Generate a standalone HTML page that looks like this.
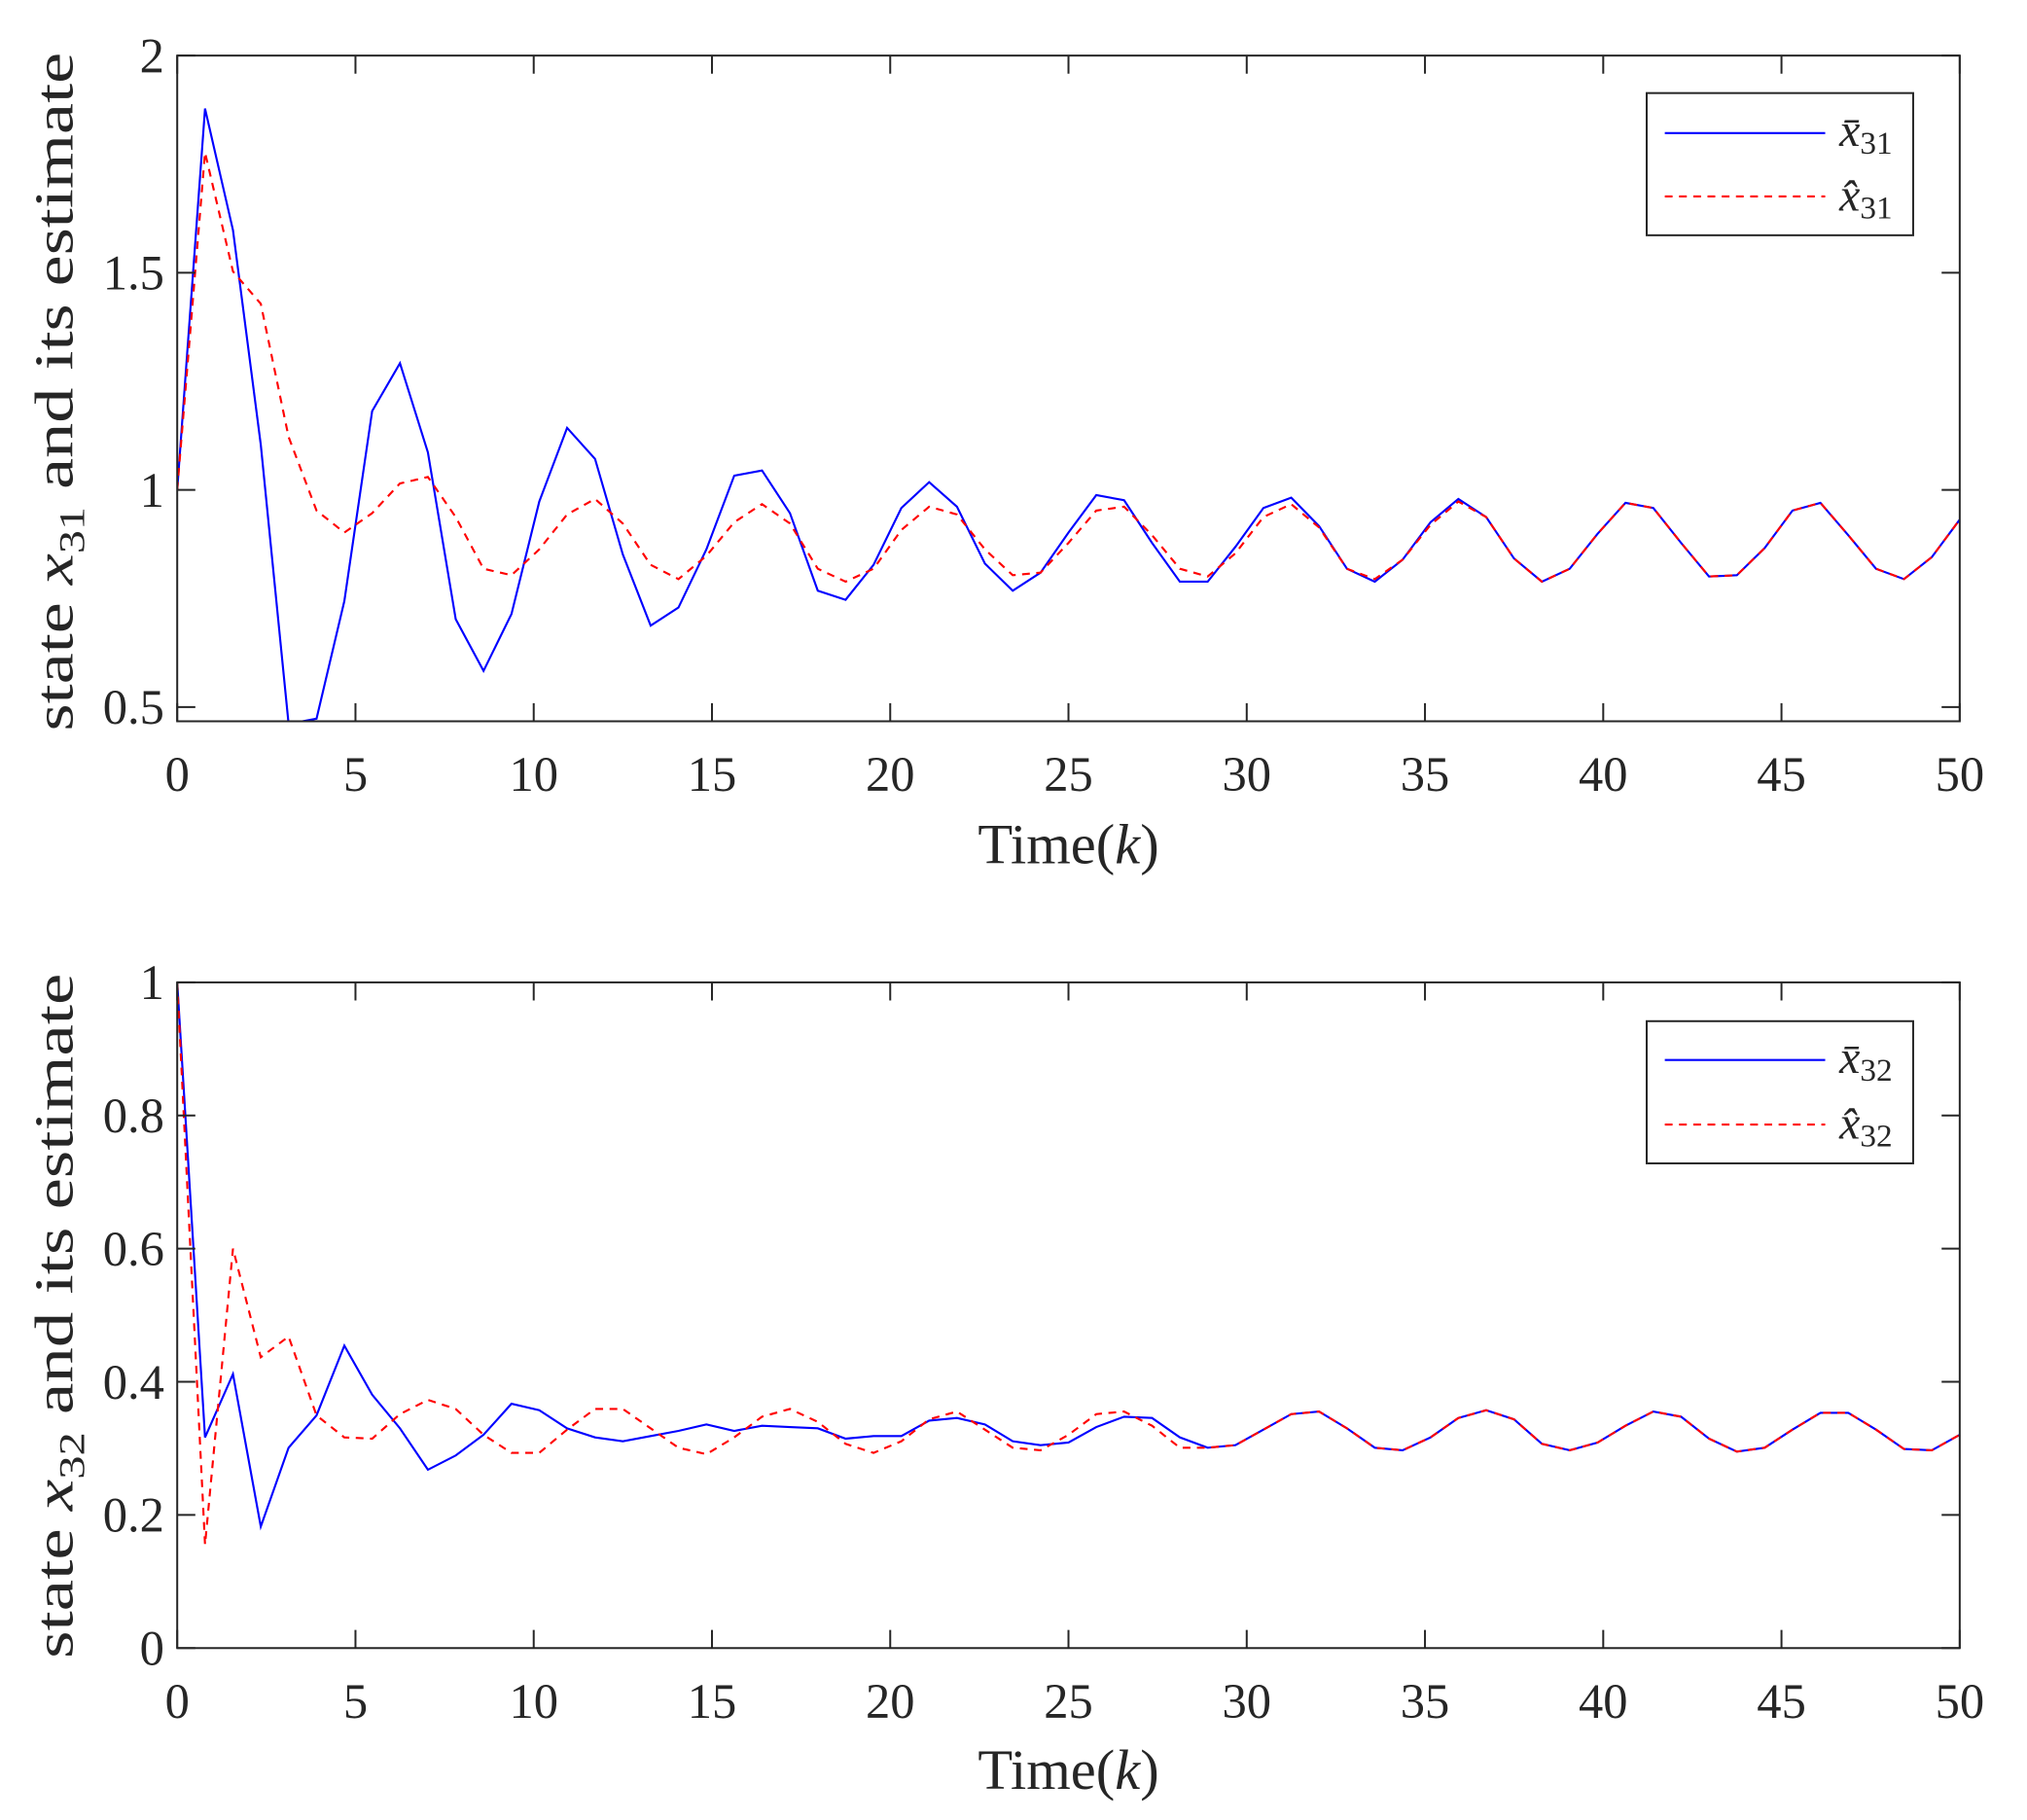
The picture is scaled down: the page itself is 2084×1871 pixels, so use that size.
<!DOCTYPE html>
<html><head><meta charset="utf-8"><style>
html,body{margin:0;padding:0;background:#fff;}
svg{display:block;}
text{font-family:"Liberation Serif",serif;fill:#262626;}
</style></head><body>
<svg width="2084" height="1871" viewBox="0 0 1567 1408" preserveAspectRatio="none" xmlns="http://www.w3.org/2000/svg">
<defs>
<clipPath id="c1"><rect x="137" y="43" width="1378" height="515"/></clipPath>
<clipPath id="c2"><rect x="137" y="760" width="1378" height="515"/></clipPath>
</defs>
<!-- TOP -->
<g clip-path="url(#c1)" fill="none" stroke-width="1.6">
<polyline stroke="#0000ff" points="137,379 158.5,84 180.1,178 201.6,344 223.1,560 244.7,556 266.2,465 287.7,318 309.2,281 330.8,350 352.3,479 373.8,519 395.4,475 416.9,388 438.4,331 460,355 481.5,429 503,484 524.5,470 546.1,425 567.6,368 589.1,364 610.7,397 632.2,457 653.7,464 675.3,437 696.8,393 718.3,373 739.8,392 761.4,436 782.9,457 804.4,443 826,412 847.5,383 869,387 890.6,420 912.1,450 933.6,450 955.1,423 976.7,393 998.2,385 1019.7,407 1041.3,440 1062.8,450 1084.3,433 1105.9,404 1127.4,386 1148.9,400 1170.4,432 1192,450 1213.5,440 1235,413 1256.6,389 1278.1,393 1299.6,420 1321.2,446 1342.7,445 1364.2,424 1385.7,395 1407.3,389 1428.8,414 1450.3,440 1471.9,448 1493.4,431 1515,402"/>
<polyline stroke="#ff0000" stroke-dasharray="6,5" points="137,379 158.5,118 180.1,210 201.6,235 223.1,338 244.7,395 266.2,412 287.7,397 309.2,374 330.8,369 352.3,400 373.8,440 395.4,445 416.9,425 438.4,398 460,386 481.5,405 503,437 524.5,448 546.1,430 567.6,404 589.1,390 610.7,405 632.2,440 653.7,450 675.3,440 696.8,410 718.3,392 739.8,398 761.4,425 782.9,445 804.4,443 826,420 847.5,395 869,392 890.6,414 912.1,440 933.6,446 955.1,428 976.7,400 998.2,390 1019.7,408 1041.3,440 1062.8,448 1084.3,433 1105.9,406 1127.4,388 1148.9,400 1170.4,432 1192,450 1213.5,440 1235,413 1256.6,389 1278.1,393 1299.6,420 1321.2,446 1342.7,445 1364.2,424 1385.7,395 1407.3,389 1428.8,414 1450.3,440 1471.9,448 1493.4,431 1515,402"/>
</g>
<rect x="137" y="43" width="1378" height="515" fill="none" stroke="#262626" stroke-width="1.5"/>
<g stroke="#262626" stroke-width="1.5">
<path d="M137,558v-14M274.8,558v-14M412.6,558v-14M550.4,558v-14M688.2,558v-14M826,558v-14M963.8,558v-14M1101.6,558v-14M1239.4,558v-14M1377.2,558v-14M1515,558v-14"/>
<path d="M137,43v14M274.8,43v14M412.6,43v14M550.4,43v14M688.2,43v14M826,43v14M963.8,43v14M1101.6,43v14M1239.4,43v14M1377.2,43v14M1515,43v14"/>
<path d="M137,43h14M137,211h14M137,379h14M137,547h14M1515,43h-14M1515,211h-14M1515,379h-14M1515,547h-14"/>
</g>
<g font-size="38" text-anchor="end">
<text x="127" y="56">2</text><text x="127" y="224">1.5</text><text x="127" y="392">1</text><text x="127" y="560">0.5</text>
</g>
<g font-size="38" text-anchor="middle">
<text x="137" y="612">0</text><text x="274.8" y="612">5</text><text x="412.6" y="612">10</text><text x="550.4" y="612">15</text><text x="688.2" y="612">20</text><text x="826" y="612">25</text><text x="963.8" y="612">30</text><text x="1101.6" y="612">35</text><text x="1239.4" y="612">40</text><text x="1377.2" y="612">45</text><text x="1515" y="612">50</text>
<text x="826" y="668" font-size="44">Time(<tspan font-style="italic">k</tspan>)</text>
</g>
<text transform="translate(56,303) rotate(-90)" font-size="42" text-anchor="middle" textLength="525" lengthAdjust="spacingAndGlyphs">state <tspan font-style="italic">x</tspan><tspan font-size="28" dy="9">31</tspan><tspan dy="-9"> and its estimate</tspan></text>
<rect x="1273" y="72" width="206" height="110" fill="#fff" stroke="#262626" stroke-width="1.5"/>
<line x1="1287" y1="103" x2="1411" y2="103" stroke="#0000ff" stroke-width="1.6"/>
<line x1="1287" y1="152" x2="1411" y2="152" stroke="#ff0000" stroke-width="1.6" stroke-dasharray="6,5"/>
<text x="1422" y="113" font-size="36" font-style="italic">x̄<tspan font-size="25" font-style="normal" dy="6">31</tspan></text>
<text x="1422" y="163" font-size="36" font-style="italic">x̂<tspan font-size="25" font-style="normal" dy="6">31</tspan></text>

<!-- BOTTOM -->
<g clip-path="url(#c2)" fill="none" stroke-width="1.6">
<polyline stroke="#0000ff" points="137,760 158.5,1112 180.1,1063 201.6,1181 223.1,1120 244.7,1095 266.2,1041 287.7,1079 309.2,1105 330.8,1137 352.3,1126 373.8,1110 395.4,1086 416.9,1091 438.4,1105 460,1112 481.5,1115 503,1111 524.5,1107 546.1,1102 567.6,1107 589.1,1103 610.7,1104 632.2,1105 653.7,1113 675.3,1111 696.8,1111 718.3,1099 739.8,1097 761.4,1102 782.9,1115 804.4,1118 826,1116 847.5,1104 869,1096 890.6,1097 912.1,1112 933.6,1120 955.1,1118 976.7,1106 998.2,1094 1019.7,1092 1041.3,1105 1062.8,1120 1084.3,1122 1105.9,1112 1127.4,1097 1148.9,1091 1170.4,1098 1192,1117 1213.5,1122 1235,1116 1256.6,1103 1278.1,1092 1299.6,1096 1321.2,1113 1342.7,1123 1364.2,1120 1385.7,1106 1407.3,1093 1428.8,1093 1450.3,1106 1471.9,1121 1493.4,1122 1515,1110"/>
<polyline stroke="#ff0000" stroke-dasharray="6,5" points="137,760 158.5,1195 180.1,966 201.6,1050 223.1,1034 244.7,1095 266.2,1112 287.7,1113 309.2,1094 330.8,1083 352.3,1090 373.8,1110 395.4,1124 416.9,1124 438.4,1106 460,1090 481.5,1090 503,1105 524.5,1120 546.1,1125 567.6,1112 589.1,1096 610.7,1090 632.2,1100 653.7,1117 675.3,1124 696.8,1115 718.3,1098 739.8,1092 761.4,1106 782.9,1120 804.4,1122 826,1110 847.5,1094 869,1092 890.6,1103 912.1,1120 933.6,1120 955.1,1118 976.7,1106 998.2,1094 1019.7,1092 1041.3,1105 1062.8,1120 1084.3,1122 1105.9,1112 1127.4,1097 1148.9,1091 1170.4,1098 1192,1117 1213.5,1122 1235,1116 1256.6,1103 1278.1,1092 1299.6,1096 1321.2,1113 1342.7,1123 1364.2,1120 1385.7,1106 1407.3,1093 1428.8,1093 1450.3,1106 1471.9,1121 1493.4,1122 1515,1110"/>
</g>
<rect x="137" y="760" width="1378" height="515" fill="none" stroke="#262626" stroke-width="1.5"/>
<g stroke="#262626" stroke-width="1.5">
<path d="M137,1275v-14M274.8,1275v-14M412.6,1275v-14M550.4,1275v-14M688.2,1275v-14M826,1275v-14M963.8,1275v-14M1101.6,1275v-14M1239.4,1275v-14M1377.2,1275v-14M1515,1275v-14"/>
<path d="M137,760v14M274.8,760v14M412.6,760v14M550.4,760v14M688.2,760v14M826,760v14M963.8,760v14M1101.6,760v14M1239.4,760v14M1377.2,760v14M1515,760v14"/>
<path d="M137,760h14M137,863h14M137,966h14M137,1069h14M137,1172h14M137,1275h14M1515,760h-14M1515,863h-14M1515,966h-14M1515,1069h-14M1515,1172h-14M1515,1275h-14"/>
</g>
<g font-size="38" text-anchor="end">
<text x="127" y="773">1</text><text x="127" y="876">0.8</text><text x="127" y="979">0.6</text><text x="127" y="1082">0.4</text><text x="127" y="1185">0.2</text><text x="127" y="1288">0</text>
</g>
<g font-size="38" text-anchor="middle">
<text x="137" y="1329">0</text><text x="274.8" y="1329">5</text><text x="412.6" y="1329">10</text><text x="550.4" y="1329">15</text><text x="688.2" y="1329">20</text><text x="826" y="1329">25</text><text x="963.8" y="1329">30</text><text x="1101.6" y="1329">35</text><text x="1239.4" y="1329">40</text><text x="1377.2" y="1329">45</text><text x="1515" y="1329">50</text>
<text x="826" y="1384" font-size="44">Time(<tspan font-style="italic">k</tspan>)</text>
</g>
<text transform="translate(56,1018) rotate(-90)" font-size="42" text-anchor="middle" textLength="530" lengthAdjust="spacingAndGlyphs">state <tspan font-style="italic">x</tspan><tspan font-size="28" dy="9">32</tspan><tspan dy="-9"> and its estimate</tspan></text>
<rect x="1273" y="790" width="206" height="110" fill="#fff" stroke="#262626" stroke-width="1.5"/>
<line x1="1287" y1="820" x2="1411" y2="820" stroke="#0000ff" stroke-width="1.6"/>
<line x1="1287" y1="870" x2="1411" y2="870" stroke="#ff0000" stroke-width="1.6" stroke-dasharray="6,5"/>
<text x="1422" y="830" font-size="36" font-style="italic">x̄<tspan font-size="25" font-style="normal" dy="6">32</tspan></text>
<text x="1422" y="881" font-size="36" font-style="italic">x̂<tspan font-size="25" font-style="normal" dy="6">32</tspan></text>
</svg>
</body></html>
